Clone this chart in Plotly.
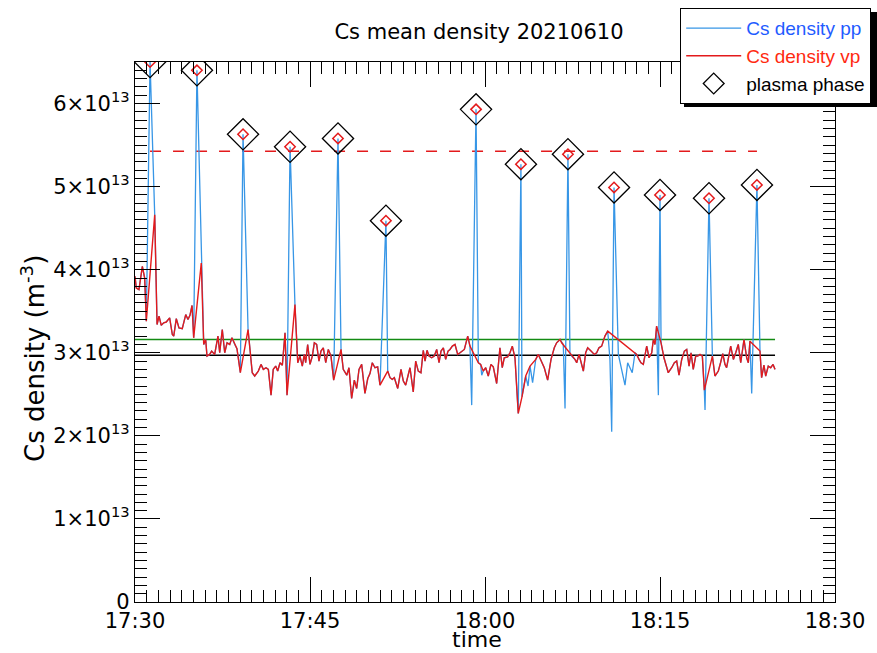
import numpy as np
import pandas as pd
import plotly.graph_objects as go

# ---------------- data (time in minutes after 17:30, density in 1e13 m^-3) ----------------
vp_t = [0.00, 0.11, 0.34, 0.45, 0.63, 0.83, 0.97, 1.69, 1.89, 2.06, 2.25, 2.46, 2.68, 2.97,
        3.20, 3.32, 3.54, 3.77, 4.05, 4.35, 4.54, 4.71, 4.89, 5.03, 5.68, 5.89, 6.06, 6.17,
        6.40, 6.57, 6.83, 7.11, 7.26, 7.48, 7.69, 7.89, 8.12, 8.31, 8.55, 8.74, 9.03, 9.69,
        10.05, 10.26, 10.57, 10.80, 11.00, 11.23, 11.43, 11.66, 11.85, 12.06, 12.23, 12.43,
        12.63, 12.86, 13.03, 13.71, 13.95, 14.14, 14.34, 14.51, 14.63, 14.80, 15.00, 15.20,
        15.37, 15.57, 15.77, 15.94, 16.14, 16.35, 16.57, 16.80, 17.03, 17.66, 17.85, 18.15,
        18.34, 18.57, 18.80, 19.00, 19.20, 19.43, 19.71, 19.95, 20.14, 20.34, 20.57, 20.80,
        21.00, 21.66, 21.86, 22.05, 22.23, 22.52, 22.80, 23.00, 23.20, 23.43, 23.57, 23.85,
        24.06, 24.28, 24.51, 24.71, 24.86, 25.03, 25.20, 25.43, 25.65, 25.86, 26.06, 26.23,
        26.43, 26.63, 26.83, 27.00, 27.20, 27.43, 27.66, 27.86, 28.03, 28.23, 28.52, 28.71,
        29.43, 29.63, 29.85, 30.06, 30.28, 30.51, 30.71, 31.00, 31.28, 31.48, 31.65, 31.94,
        32.14, 32.34, 32.57, 32.85, 33.17, 33.49, 33.86, 34.35, 34.57, 34.86, 35.08, 35.37,
        35.66, 35.94, 36.14, 36.43, 36.57, 37.71, 37.86, 38.06, 38.23, 38.43, 38.63, 38.80,
        39.09, 39.37, 39.57, 39.77, 40.00, 40.28, 40.52, 43.00, 43.20, 43.37, 43.57, 43.86,
        44.06, 44.29, 44.43, 44.57, 44.71, 45.09, 45.34, 45.71, 46.00, 46.23, 46.43, 46.63,
        46.86, 47.09, 47.29, 47.49, 47.66, 47.85, 48.06, 48.23, 48.43, 48.63, 48.80, 49.49,
        49.71, 50.00, 50.19, 50.38, 50.57, 50.71, 51.06, 51.29, 51.49, 51.71, 51.92, 52.20,
        52.43, 52.57, 52.71, 53.57, 53.71, 53.91, 54.06, 54.28, 54.49, 54.69, 54.86]
vp_v = [3.92, 3.78, 3.76, 3.88, 4.04, 3.90, 3.38, 4.66, 3.34, 3.44, 3.33, 3.36, 3.37, 3.42,
        3.22, 3.20, 3.41, 3.30, 3.29, 3.46, 3.40, 3.45, 3.57, 3.18, 4.08, 3.10, 3.16, 2.96,
        2.98, 3.02, 2.98, 3.20, 3.00, 3.28, 3.00, 3.12, 3.10, 3.18, 3.10, 3.05, 2.76, 3.28,
        2.76, 2.72, 2.78, 2.86, 2.80, 2.82, 2.80, 2.49, 2.80, 2.84, 2.78, 2.88,
        2.85, 3.24, 2.49, 3.58, 2.88, 2.96, 2.84, 2.98, 2.88, 3.10, 2.86, 2.96,
        3.12, 3.10, 2.90, 3.02, 3.06, 2.88, 3.04, 2.96, 2.67, 3.04, 2.80, 2.73,
        2.82, 2.45, 2.67, 2.57, 2.80, 2.86, 2.51, 2.69, 2.75, 2.88, 2.82, 2.83,
        2.61, 2.78, 2.70, 2.68, 2.70, 2.57, 2.80, 2.66, 2.61, 2.74, 2.82, 2.53,
        2.90, 2.78, 2.76, 3.03, 2.90, 3.03, 2.96, 2.94, 2.96, 3.04, 2.88, 3.02,
        3.06, 2.92, 3.02, 3.04, 3.08, 3.10, 2.98, 3.00, 3.02, 3.04, 3.20, 3.08,
        2.88, 2.86, 2.78, 2.82, 2.72, 2.86, 2.83, 2.63, 3.06, 2.82, 2.94, 2.95,
        3.00, 3.08, 2.94, 2.27, 2.47, 2.72, 2.84, 2.92, 2.98, 2.88, 2.82, 2.67,
        2.92, 3.06, 3.12, 3.16, 3.12, 2.92, 2.88, 2.98, 2.90, 2.78, 3.00, 3.06,
        3.02, 2.98, 3.00, 3.06, 3.08, 3.20, 3.26, 2.98, 2.92, 2.88, 2.86, 3.08,
        2.94, 3.00, 3.16, 3.10, 3.32, 3.12, 2.94, 2.76, 2.82, 2.88, 2.90, 2.73,
        2.92, 3.02, 3.04, 2.84, 3.00, 2.80, 2.96, 2.96, 2.98, 2.96, 2.55, 2.96,
        2.72, 2.78, 2.88, 2.99, 2.86, 2.82, 3.08, 2.92, 3.00, 3.10, 2.88, 3.16,
        2.94, 2.88, 3.14, 3.02, 2.70, 2.85, 2.72, 2.84, 2.82, 2.86, 2.80]

# samples present only in the "pp" series (besides the plasma-phase peaks)
pp_only_t = [28.86, 29.72, 33.69, 34.08, 36.71, 36.86, 37.28, 37.43, 40.71, 40.86,
             41.43, 41.71, 42.00, 42.23, 42.62, 42.86, 44.86, 48.86, 52.86]
pp_only_v = [2.37, 2.73, 2.60, 2.64, 3.10, 2.33, 3.00, 2.96, 2.92, 2.05,
             2.98, 2.80, 2.61, 2.88, 2.76, 3.00, 2.49, 2.31, 2.51]

# plasma phases
plasma_t = [1.29, 5.31, 9.26, 13.29, 17.40, 21.51, 29.23, 33.08, 37.11, 41.06, 45.00, 49.20, 53.31]
plasma_v = [6.50, 6.40, 5.63, 5.48, 5.58, 4.59, 5.93, 5.27, 5.39, 4.99, 4.90, 4.86, 5.02]

green_level = 3.16   # 1e13 m^-3
black_level = 2.97   # 1e13 m^-3

ytick_vals = [0, 1, 2, 3, 4, 5, 6]
xtick_labels = ["17:30", "17:45", "18:00", "18:15", "18:30"]

# ---------------- helpers ----------------
SCALE = 1e13
T0 = pd.Timestamp("2021-06-10 17:30:00")

W, H = 877, 653
PL, PR, PT, PB = 135, 835, 62, 602          # plot-area edges in pixels


def px_x(px):
    return (px - PL) / (PR - PL)


def px_y(py):
    return (PB - py) / (PB - PT)


def to_time(mins):
    return [T0 + pd.Timedelta(minutes=float(m)) for m in mins]


def to_dens(vals):
    return [v * SCALE for v in vals]


# pp series = vp samples + pp-only samples + plasma peaks, in time order
pp_pairs = sorted(list(zip(vp_t, vp_v)) + list(zip(pp_only_t, pp_only_v)) +
                  list(zip(plasma_t, plasma_v)))
pp_t = [p[0] for p in pp_pairs]
pp_v = [p[1] for p in pp_pairs]

plasma_mean = float(np.mean(plasma_v))

FONT = "DejaVu Sans, Liberation Sans, Arial, sans-serif"
LEG_FONT = "Liberation Sans, Arial, Helvetica, sans-serif"
BLUE_LINE = "#3796e6"
RED_LINE = "#e31a1c"

fig = go.Figure()

fig.add_trace(go.Scatter(x=to_time([vp_t[0], vp_t[-1]]), y=to_dens([black_level] * 2),
                         mode="lines", line=dict(color="black", width=1.5),
                         showlegend=False, hoverinfo="skip"))
fig.add_trace(go.Scatter(x=to_time([vp_t[0], vp_t[-1]]), y=to_dens([green_level] * 2),
                         mode="lines", line=dict(color="#138a13", width=1.5),
                         showlegend=False, hoverinfo="skip"))
fig.add_trace(go.Scatter(x=to_time([plasma_t[0], plasma_t[-1]]), y=to_dens([plasma_mean] * 2),
                         mode="lines", line=dict(color=RED_LINE, width=1.5, dash="11px,12px"),
                         showlegend=False, hoverinfo="skip"))

fig.add_trace(go.Scatter(x=to_time(pp_t), y=to_dens(pp_v), mode="lines",
                         line=dict(color=BLUE_LINE, width=1.3),
                         name="<span style='color:#1f5cff'>Cs density pp</span>"))
fig.add_trace(go.Scatter(x=to_time(vp_t), y=to_dens(vp_v), mode="lines",
                         line=dict(color=RED_LINE, width=1.4),
                         name="<span style='color:#ff2a10'>Cs density vp</span>"))
fig.add_trace(go.Scatter(x=to_time(plasma_t), y=to_dens(plasma_v), mode="markers",
                         marker=dict(symbol="diamond-open", size=24, color="black",
                                     line=dict(width=1.3, color="black")),
                         name="plasma phase"))
fig.add_trace(go.Scatter(x=to_time(plasma_t), y=to_dens(plasma_v), mode="markers",
                         marker=dict(symbol="diamond-open", size=8, color=RED_LINE,
                                     line=dict(width=1.5, color=RED_LINE)),
                         showlegend=False))

axis_common = dict(showline=True, linecolor="black", linewidth=1.3, mirror="ticks",
                   ticks="inside", ticklen=25, tickwidth=1.3, tickcolor="black",
                   showgrid=False, zeroline=False,
                   tickfont=dict(family=FONT, size=21, color="black"))

fig.update_xaxes(type="date",
                 range=[T0, T0 + pd.Timedelta(minutes=60)],
                 tickvals=[T0 + pd.Timedelta(minutes=15 * i) for i in range(len(xtick_labels))],
                 ticktext=xtick_labels,
                 minor=dict(ticks="inside", ticklen=12, tickwidth=1.3, tickcolor="black",
                            dtick=60000, tick0=T0, showgrid=False),
                 **axis_common)
fig.update_yaxes(range=[0, 6.5 * SCALE],
                 tickvals=[v * SCALE for v in ytick_vals],
                 ticktext=["0" if v == 0 else f"{v}×10<sup>13</sup>" for v in ytick_vals],
                 minor=dict(ticks="inside", ticklen=12, tickwidth=1.3, tickcolor="black",
                            dtick=0.1 * SCALE, tick0=0, showgrid=False),
                 **axis_common)

annotations = [
    dict(text="time", xref="paper", yref="paper", x=px_x(477), y=px_y(653),
         xanchor="center", yanchor="bottom", showarrow=False, borderpad=0,
         font=dict(family=FONT, size=22, color="black")),
    dict(text="Cs density (m<sup>-3</sup>)", xref="paper", yref="paper",
         x=px_x(33), y=px_y(359), xanchor="center", yanchor="middle", textangle=-90,
         showarrow=False, font=dict(family=FONT, size=26, color="black")),
]

# legend drop shadow
shapes = [dict(type="rect", xref="paper", yref="paper", layer="above",
               x0=px_x(684), x1=px_x(877), y0=px_y(107), y1=px_y(12),
               fillcolor="black", line=dict(width=0))]

fig.update_layout(
    width=W, height=H,
    margin=dict(l=PL, r=W - PR, t=PT, b=H - PB, autoexpand=False),
    paper_bgcolor="white", plot_bgcolor="white",
    font=dict(family=FONT, color="black"),
    title=dict(text="Cs mean density 20210610", x=479 / W, xanchor="center",
               y=1 - 32 / H, yanchor="middle",
               font=dict(family=FONT, size=21, color="black")),
    legend=dict(x=px_x(680), xanchor="left", y=px_y(8), yanchor="top",
                bgcolor="white", bordercolor="black", borderwidth=1.2,
                font=dict(family=LEG_FONT, size=19, color="black"), itemwidth=55,
                tracegroupgap=0),
    annotations=annotations,
    shapes=shapes,
    showlegend=True,
)

fig.write_html("out.html")
